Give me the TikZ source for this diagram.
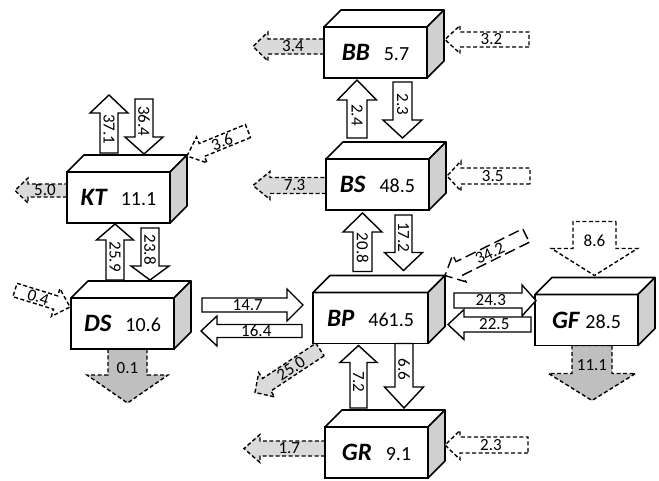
\documentclass[tikz,border=0pt]{standalone}
\usepackage{fontspec}
\setmainfont{Carlito}
\usetikzlibrary{calc, backgrounds}
\definecolor{ink}{HTML}{000000}
\definecolor{sidegray}{HTML}{D0D0D0}
\definecolor{lossgray}{HTML}{DADADA}
\definecolor{sinkgray}{HTML}{BFBFBF}

% compartment: name, centre of front face, width, text
\newcommand\tank[4]{%
  \node[tankfront, minimum width=#3] (#1) at (#2) {#4};
  \draw[tankline, fill=white] (#1.north west) -- ++(17,-17) -- ++(#3,0) -- (#1.north east) -- cycle;
  \draw[tankline, fill=sidegray] (#1.north east) -- ++(17,-17) -- ++(0,51) -- (#1.south east) -- cycle;
}
\newcommand\tanktext[3][14pt]{{\fontsize{25}{25}\selectfont\bfseries\itshape #2}\hspace{#1}{\fontsize{20}{20}\selectfont #3}}

% block arrow: [style], tail, tip, shaft width, head width, head length, label
\newcommand\blockflow[7][]{%
  \coordinate (ft) at (#2);
  \coordinate (fh) at (#3);
  \path let \p1=(ft), \p2=(fh) in \pgfextra{%
    \pgfmathsetmacro\flen{veclen(\x2-\x1,\y2-\y1)}%
    \pgfmathsetmacro\fang{atan2(\y2-\y1,\x2-\x1)}%
    \pgfmathsetmacro\frot{#4>30 ? 0 : (cos(\fang)>0.01 ? \fang : (cos(\fang) < -0.01 ? \fang-180 : -90))}%
    \xdef\flen{\flen}\xdef\fang{\fang}\xdef\frot{\frot}};
  \begin{scope}[shift={(ft)}, rotate=\fang]
    \draw[#1] (0,-#4/2) -- ({\flen-#6},-#4/2) -- ({\flen-#6},-#5/2) -- (\flen,0)
      -- ({\flen-#6},#5/2) -- ({\flen-#6},#4/2) -- (0,#4/2) -- cycle;
    \node[flowlabel, rotate=\frot] at ({(\flen-0.6*#6)/2},0) {#7};
  \end{scope}
}

\begin{document}
\begin{tikzpicture}[x=1pt, y=-1pt,
    tankfront/.style={rectangle, draw=ink, line width=1.6pt, fill=white, inner sep=0pt, outer sep=0pt, minimum height=51pt},
    tankline/.style={draw=ink, line width=1.6pt, line join=round},
    pipe/.style={draw=ink, line width=1.4pt, fill=white},
    inpipe/.style={pipe, dash pattern=on 4pt off 2.5pt},
    outpipe/.style={inpipe, fill=lossgray},
    sinkpipe/.style={inpipe, fill=sinkgray},
    longpipe/.style={pipe, dash pattern=on 11pt off 5pt},
    flowlabel/.style={font=\fontsize{17}{17}\selectfont, text=ink, inner sep=0pt}]
  \useasboundingbox (0,0) rectangle (659,480);

  % compartments
  \tank{bb}{375.5,52.5}{103pt}{\tanktext{BB}{5.7}}
  \tank{bs}{377.5,184.5}{103pt}{\tanktext{BS}{48.5}}
  \tank{kt}{118.5,197.5}{103pt}{\tanktext{KT}{11.1}}
  \tank{ds}{122.5,323.5}{103pt}{\tanktext{DS}{10.6}}
  \tank{bp}{370.5,318}{115pt}{\tanktext{BP}{461.5}}
  \tank{gf}{586.5,320}{103pt}{\tanktext[6pt]{GF}{28.5}}
  \tank{gr}{376.5,452.5}{103pt}{\tanktext{GR}{9.1}}

  % losses, behind the boxes
  \begin{pgfonlayer}{background}
    \blockflow[outpipe]{$(kt.west)+(0,-7)$}{$(kt.west)+(-52,-7)$}{13}{25}{13}{5.0}
    \blockflow[sinkpipe]{$(ds.south)+(5,0)$}{$(ds.south)+(5,54)$}{39}{81}{28}{0.1}
    \blockflow[outpipe]{$(bp.south west)+(7,6)$}{$(bp.south west)+(-58,49)$}{15}{29}{14}{25.0}
    \blockflow[outpipe]{$(gr.west)+(0,-4)$}{$(gr.west)+(-81,-4)$}{15}{28}{16}{1.7}
    \blockflow[outpipe]{$(bb.west)+(0,-6)$}{$(bb.west)+(-71,-6)$}{15}{29}{15}{3.4}
    \blockflow[outpipe]{$(bs.west)+(0,1)$}{$(bs.west)+(-73,1)$}{16}{28}{17}{7.3}
    \blockflow[sinkpipe]{$(gf.south)+(5.5,0)$}{$(gf.south)+(5.5,55)$}{40}{87}{27}{11.1}
  \end{pgfonlayer}

  % exchanges
  \blockflow[pipe]{$(kt.north)+(-9.5,-19)$}{$(kt.north)+(-9.5,-77)$}{18}{38}{18}{37.1}
  \blockflow[pipe]{$(kt.north)+(25.5,-73)$}{$(kt.north)+(25.5,-18)$}{18}{38}{17}{36.4}
  \blockflow[pipe]{$(ds.north)+(-7.5,-18)$}{$(kt.south)+(-3.5,1)$}{18}{37}{16}{25.9}
  \blockflow[pipe]{$(kt.south)+(31.5,5)$}{$(ds.north)+(27.5,-18)$}{18}{38}{14}{23.8}
  \blockflow[pipe]{$(ds.east)+(28,-18.5)$}{$(bp.west)+(-10,-13)$}{14}{32}{16}{14.7}
  \blockflow[pipe]{$(bp.west)+(-11,13)$}{$(ds.east)+(27,7.5)$}{13}{30}{16}{16.4}
  \blockflow[pipe]{$(bp.north)+(-8,-21)$}{$(bs.south)+(-15,3)$}{19}{39}{19}{20.8}
  \blockflow[pipe]{$(bs.south)+(26,5)$}{$(bp.north)+(33,-22)$}{17}{38}{18}{17.2}
  \blockflow[pipe]{$(bs.north)+(-20.5,-21)$}{$(bb.south)+(-18.5,2)$}{20}{39}{20}{2.4}
  \blockflow[pipe]{$(bb.south)+(27,4)$}{$(bs.north)+(25,-21)$}{19}{39}{18}{2.3}
  \blockflow[pipe]{$(gr.north)+(-18,-19)$}{$(bp.south)+(-12,2)$}{17}{37}{17}{7.2}
  \blockflow[pipe]{$(bp.south)+(33.5,0)$}{$(gr.north)+(27.5,-19)$}{18}{39}{21}{6.6}
  \blockflow[pipe]{$(bp.east)+(26,-17.5)$}{$(gf.west)+(1,-19.5)$}{15}{31}{14}{24.3}
  \blockflow[pipe]{$(gf.west)+(-4,4.5)$}{$(bp.east)+(20,6.5)$}{15}{30}{16}{22.5}

  % inputs
  \blockflow[inpipe]{$(kt.north east)+(78,-41)$}{$(kt.north east)+(17,-16)$}{14}{28}{16}{3.6}
  \blockflow[inpipe]{$(ds.north west)+(-56,-8)$}{$(ds.north west)+(-1,9)$}{14}{29}{15}{0.4}
  \blockflow[longpipe]{$(bp.north east)+(98,-57)$}{$(bp.north east)+(17,-17)$}{15}{30}{16}{34.2}
  \blockflow[inpipe]{$(bb.east)+(102,-13)$}{$(bb.east)+(18,-13)$}{15}{28}{15}{3.2}
  \blockflow[inpipe]{$(bs.east)+(101,-8.5)$}{$(bs.east)+(18,-8.5)$}{16}{30}{14}{3.5}
  \blockflow[inpipe]{$(gr.east)+(100,-7.5)$}{$(gr.east)+(17,-7.5)$}{16}{29}{15}{2.3}
  \blockflow[inpipe]{$(gf.north)+(8,-73)$}{$(gf.north)+(8,-19)$}{43}{86}{27}{8.6}
\end{tikzpicture}
\end{document}
